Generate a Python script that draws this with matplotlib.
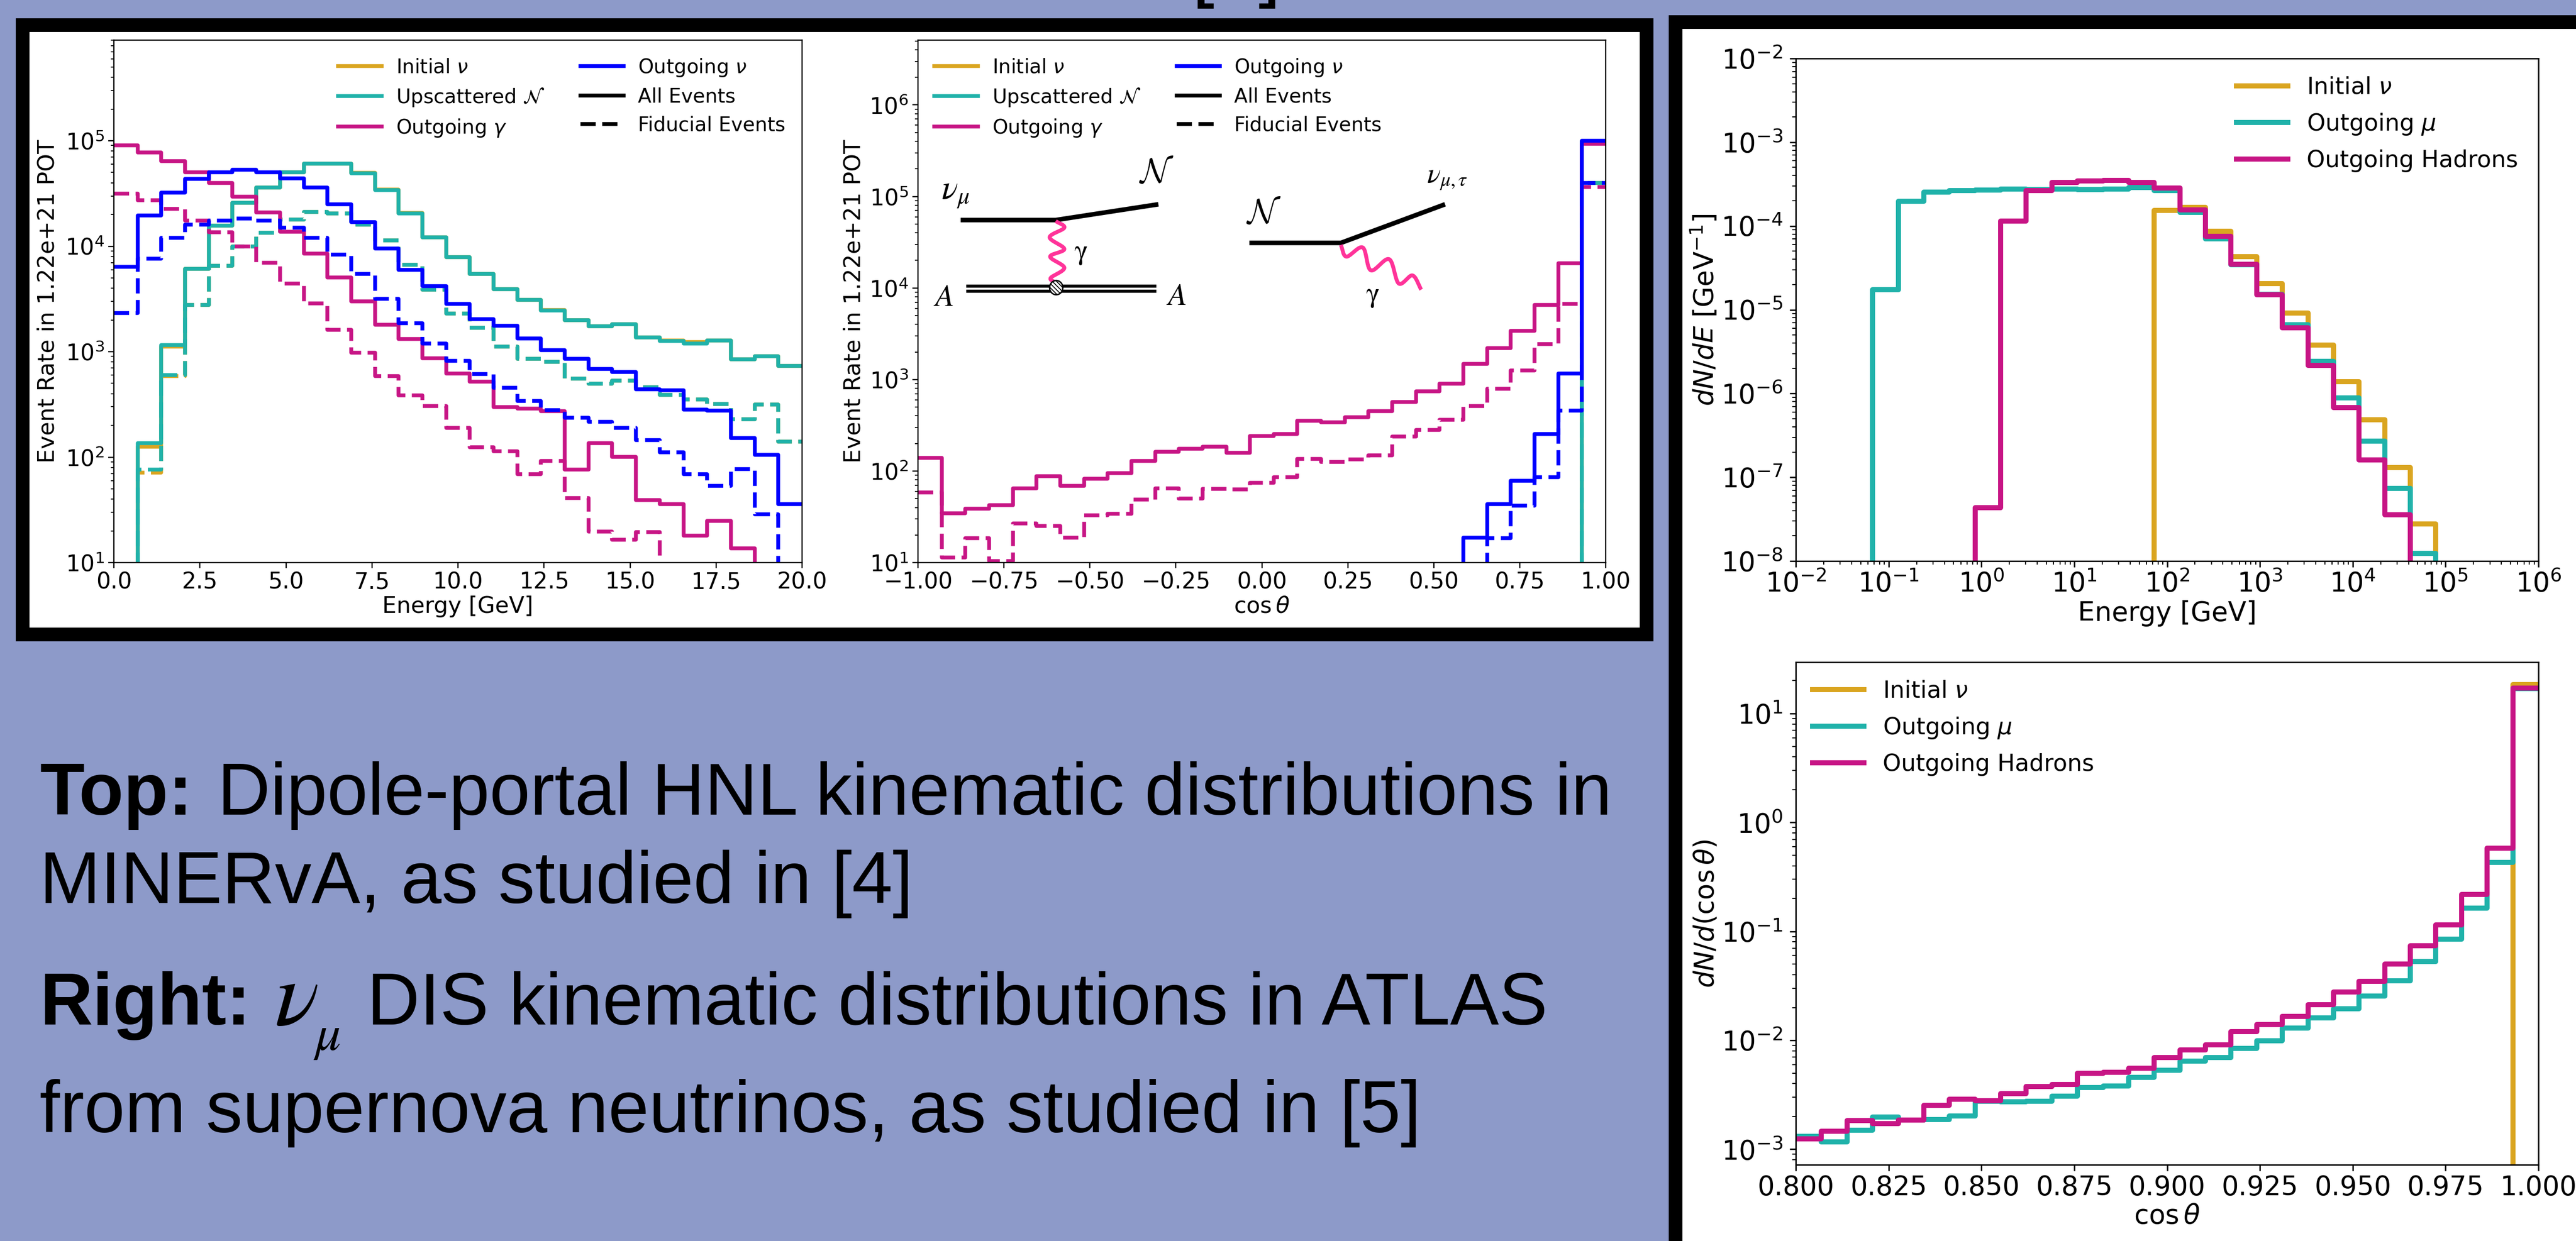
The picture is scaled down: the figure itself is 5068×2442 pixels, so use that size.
import numpy as np
import matplotlib
matplotlib.use("Agg")
import matplotlib.pyplot as plt
from matplotlib.lines import Line2D
from matplotlib.patches import Ellipse, Rectangle
from matplotlib.ticker import LogLocator, NullFormatter

W, H, DPI = 5068, 2442, 100
GOLD, TEAL, MAG, BLUE = "goldenrod", "lightseagreen", "mediumvioletred", "blue"
BG = "#8d9ac9"

# ---- top-left panel: energy ----
e_edges_range = (0, 20)
e_initial_all = [0, 125, 1120, 6100, 15700, 25700, 36000, 50500, 60500, 60500, 49500, 34500, 20700, 12100, 7840, 5470, 3920, 3100, 2490, 1990, 1740, 1820, 1360, 1280, 1230, 1270, 847, 910, 733]
e_initial_fid = [0, 71, 590, 2780, 6490, 10000, 13450, 17950, 21100, 20500, 16100, 11300, 6670, 3880, 2300, 1680, 1120, 855, 803, 555, 497, 531, 459, 391, 351, 318, 228, 316, 141]
e_upsc_all = [0, 136, 1150, 6100, 15700, 25700, 36000, 50500, 60500, 60500, 49200, 34000, 20500, 12100, 7840, 5470, 3920, 3100, 2470, 1980, 1740, 1820, 1360, 1260, 1200, 1270, 847, 910, 733]
e_upsc_fid = [0, 76, 597, 2780, 6490, 10000, 13450, 17950, 21100, 20500, 16100, 11300, 6670, 3880, 2300, 1680, 1120, 855, 803, 555, 497, 531, 459, 391, 351, 318, 228, 316, 141]
e_gamma_all = [90800, 77100, 64400, 50500, 39600, 29400, 20900, 13700, 8490, 5080, 3010, 1810, 1320, 863, 624, 521, 298, 290, 272, 76, 136, 101, 39, 36, 18, 24.8, 13.7, 0, 0]
e_gamma_fid = [31700, 27400, 22500, 17500, 13500, 9910, 6970, 4440, 2880, 1610, 979, 586, 384, 306, 190, 124, 113, 68.7, 92.5, 41, 19.6, 16.4, 19.5, 0, 0, 0, 0, 0, 0]
e_nu_all = [6370, 19600, 32200, 43300, 50100, 52900, 50100, 44200, 35900, 25000, 17000, 9550, 5990, 4170, 2830, 2030, 1770, 1330, 1030, 855, 689, 641, 440, 428, 282, 275, 152, 105, 36]
e_nu_fid = [2320, 7620, 12000, 16000, 17600, 18400, 17500, 15000, 12000, 8340, 5470, 3160, 1870, 1190, 817, 612, 455, 341, 280, 236, 216, 190, 145, 111, 68.7, 53.3, 77, 28.7, 0]

# ---- top-middle panel: cos theta ----
c_upsc_all = [0] * 28 + [400000]
c_upsc_fid = [0] * 28 + [140000]
c_initial_all = [0] * 28 + [400000]
c_initial_fid = [0] * 28 + [140000]
c_gamma_all = [139, 34.6, 38.8, 42.2, 64.4, 87.9, 69.3, 82.6, 94.6, 129, 162, 176, 185, 158, 240, 253, 352, 341, 386, 452, 567, 743, 904, 1490, 2200, 3400, 6530, 18600, 374000]
c_gamma_fid = [58, 11.3, 18.4, 10.4, 26.7, 25, 18.8, 32.9, 34.3, 48.8, 64.4, 50.2, 63.8, 63, 74.5, 85.3, 136, 126, 134, 149, 238, 281, 363, 516, 789, 1260, 2440, 6730, 126000]
c_nu_all = [0] * 23 + [18.6, 43.5, 78.5, 253, 1160, 406000]
c_nu_fid = [0] * 24 + [18.4, 41.7, 85.3, 456, 140000]

# ---- right-top panel: DIS energy ----
d_initial = [0] * 14 + [1.53e-4, 1.68e-4, 8.6e-5, 4.3e-5, 2.05e-5, 9.1e-6, 3.8e-6, 1.39e-6, 4.85e-7, 1.31e-7, 2.77e-8, 0, 0, 0, 0]
d_muon = [0, 0, 0, 1.74e-5, 1.96e-4, 2.54e-4, 2.66e-4, 2.69e-4, 2.75e-4, 2.72e-4, 2.75e-4, 2.72e-4, 2.75e-4, 2.88e-4, 2.66e-4, 1.45e-4, 7e-5, 3.45e-5, 1.54e-5, 6.6e-6, 2.42e-6, 8.8e-7, 2.7e-7, 7.4e-8, 1.24e-8, 0, 0, 0, 0]
d_hadrons = [0] * 7 + [4.35e-8, 1.15e-4, 2.66e-4, 3.29e-4, 3.44e-4, 3.5e-4, 3.33e-4, 2.85e-4, 1.55e-4, 7.5e-5, 3.5e-5, 1.52e-5, 6.07e-6, 2.18e-6, 6.8e-7, 1.62e-7, 3.56e-8, 0, 0, 0, 0, 0]

# ---- right-bottom panel: DIS cos theta ----
a_initial = [0] * 28 + [18.4]
a_muon = [1.31e-3, 1.17e-3, 1.49e-3, 1.98e-3, 1.85e-3, 1.87e-3, 2.03e-3, 2.75e-3, 2.73e-3, 2.77e-3, 3.06e-3, 3.7e-3, 3.82e-3, 4.55e-3, 5.32e-3, 6.43e-3, 6.92e-3, 8.43e-3, 9.93e-3, 1.29e-2, 1.61e-2, 1.95e-2, 2.54e-2, 3.5e-2, 5.29e-2, 8.51e-2, 0.164, 0.431, 17.0]
a_hadrons = [1.24e-3, 1.47e-3, 1.84e-3, 1.72e-3, 1.85e-3, 2.54e-3, 2.89e-3, 2.8e-3, 3.24e-3, 3.76e-3, 3.95e-3, 4.98e-3, 5.1e-3, 5.54e-3, 6.92e-3, 8.15e-3, 9.08e-3, 1.2e-2, 1.4e-2, 1.65e-2, 2.12e-2, 2.78e-2, 3.47e-2, 4.99e-2, 7.4e-2, 0.115, 0.219, 0.579, 17.2]

NBINS = 29
plt.rcParams["font.family"] = ["DejaVu Sans"]
plt.rcParams["hatch.linewidth"] = 1.3
fig = plt.figure(figsize=(W / DPI, H / DPI), dpi=DPI, facecolor=BG)


def px_rect(l, t, r, b, color, z=0):
    fig.add_artist(Rectangle((l / W, 1 - b / H), (r - l) / W, (b - t) / H, transform=fig.transFigure,
                             facecolor=color, edgecolor="none", zorder=z))


def px_line(xs, ys, color="black", lw=5.5, z=3, cap="butt"):
    fig.add_artist(Line2D(np.asarray(xs) / W, 1 - np.asarray(ys) / H, transform=fig.transFigure,
                          color=color, lw=lw, solid_capstyle=cap, zorder=z))


def px_text(x, y, s, **kw):
    return fig.text(x / W, 1 - y / H, s, **kw)


def px_axes(l, t, r, b):
    ax = fig.add_axes([l / W, 1 - b / H, (r - l) / W, (b - t) / H], zorder=2)
    ax.patch.set_alpha(0)
    return ax


def style(ax, fs, scale, ypad):
    ax.set_yscale("log")
    ax.tick_params(which="major", length=3.5 * scale, width=0.8 * scale, labelsize=fs)
    ax.tick_params(which="minor", length=2 * scale, width=0.6 * scale)
    ax.tick_params(axis="y", which="major", pad=ypad)
    ax.tick_params(axis="x", which="major", pad=5)
    ax.yaxis.set_major_locator(LogLocator(base=10, numticks=20))
    ax.yaxis.set_minor_locator(LogLocator(base=10, subs=np.arange(2, 10), numticks=20))
    ax.yaxis.set_minor_formatter(NullFormatter())
    for s in ax.spines.values():
        s.set_linewidth(0.8 * scale)


def stairs(ax, vals, edges, color, lw, ls="-"):
    v = np.clip(np.asarray(vals, float), 1e-14, None)
    ax.stairs(v, edges, baseline=None, color=color, lw=lw, ls=ls, joinstyle="round")


def smooth(pts, n=24):
    """Catmull-Rom curve through the given pixel control points (drawn decoration only)."""
    p = np.asarray(pts, float)
    p = np.vstack([2 * p[0] - p[1], p, 2 * p[-1] - p[-2]])
    out = []
    for i in range(1, len(p) - 2):
        t = np.linspace(0, 1, n)[:, None]
        out.append(0.5 * (2 * p[i] + (p[i + 1] - p[i - 1]) * t + (2 * p[i - 1] - 5 * p[i] + 4 * p[i + 1] - p[i + 2]) * t ** 2
                          + (3 * p[i] - p[i - 1] - 3 * p[i + 1] + p[i + 2]) * t ** 3))
    return np.vstack(out)


# frames
px_rect(31, 36, 3253, 1262, "black")
px_rect(58, 63, 3226, 1235, "white", 1)
px_rect(3283, 30, W, H, "black")
px_rect(3310, 57, W, H, "white", 1)

# cut-off heading at top edge
px_text(2345, -16, "[3]", family="Liberation Sans", fontsize=114, ha="left", va="baseline", color="black", clip_on=False)

# ---- top panels ----
FS1, LEG1, SC1, LW1 = 32, 28, 2.2, 5.4
dash1 = (0, (4.0, 1.7))

ax1 = px_axes(224, 79, 1578, 1107)
style(ax1, FS1, SC1, 6)
e_edges = np.linspace(*e_edges_range, NBINS + 1)
for a, f, c in [(e_initial_all, e_initial_fid, GOLD), (e_upsc_all, e_upsc_fid, TEAL),
                (e_gamma_all, e_gamma_fid, MAG), (e_nu_all, e_nu_fid, BLUE)]:
    stairs(ax1, a, e_edges, c, LW1)
    stairs(ax1, f, e_edges, c, LW1, dash1)
ax1.set_xlim(0, 20)
ax1.set_ylim(10, 9e5)
ax1.set_xticks(np.arange(0, 20.1, 2.5))
ax1.set_xlabel("Energy [GeV]", fontsize=FS1, labelpad=3)
ax1.set_ylabel("Event Rate in 1.22e+21 POT", fontsize=FS1, labelpad=9)

ax2 = px_axes(1806, 79, 3159, 1107)
style(ax2, FS1, SC1, 6)
c_edges = np.linspace(-1, 1, NBINS + 1)
for a, f, c in [(c_initial_all, c_initial_fid, GOLD), (c_upsc_all, c_upsc_fid, TEAL),
                (c_gamma_all, c_gamma_fid, MAG), (c_nu_all, c_nu_fid, BLUE)]:
    stairs(ax2, a, c_edges, c, LW1)
    stairs(ax2, f, c_edges, c, LW1, dash1)
ax2.set_xlim(-1, 1)
ax2.set_ylim(10, 5.1e6)
ax2.set_xticks(np.arange(-1, 1.01, 0.25))
ax2.set_xlabel(r"$\cos\theta$", fontsize=FS1, labelpad=3)
ax2.set_ylabel("Event Rate in 1.22e+21 POT", fontsize=FS1, labelpad=6)

top_handles = [Line2D([], [], color=GOLD, lw=LW1), Line2D([], [], color=TEAL, lw=LW1), Line2D([], [], color=MAG, lw=LW1),
               Line2D([], [], color=BLUE, lw=LW1), Line2D([], [], color="k", lw=LW1), Line2D([], [], color="k", lw=LW1, ls=dash1)]
top_labels = [r"Initial $\nu$", r"Upscattered $\mathcal{N}$", r"Outgoing $\gamma$", r"Outgoing $\nu$", "All Events", "Fiducial Events"]
for ax, x0 in [(ax1, (665 - 224) / 1354), (ax2, (1838 - 1806) / 1353)]:
    ax.legend(top_handles, top_labels, ncol=2, loc="upper left", bbox_to_anchor=(x0, 0.968), borderaxespad=0, borderpad=0,
              frameon=False, fontsize=LEG1, handlelength=2.2, handletextpad=0.72, columnspacing=1.8, labelspacing=0.46)

# ---- right panels ----
FS2, LEG2, SC2, LW2 = 38, 33, 2.5, 7.2
ax3 = px_axes(3533, 115, 4994, 1104)
style(ax3, FS2, SC2, 9.5)
ax3.set_xscale("log")
d_edges = np.logspace(-2, 6, NBINS + 1)
for v, c in [(d_initial, GOLD), (d_muon, TEAL), (d_hadrons, MAG)]:
    stairs(ax3, v, d_edges, c, LW2)
ax3.set_xlim(1e-2, 1e6)
ax3.set_ylim(1e-8, 1e-2)
ax3.xaxis.set_major_locator(LogLocator(base=10, numticks=20))
ax3.xaxis.set_minor_locator(LogLocator(base=10, subs=np.arange(2, 10), numticks=20))
ax3.xaxis.set_minor_formatter(NullFormatter())
ax3.set_xlabel("Energy [GeV]", fontsize=FS2, labelpad=3)
ax3.set_ylabel(r"$dN/dE$ [GeV$^{-1}$]", fontsize=FS2, labelpad=3)

ax4 = px_axes(3533, 1303, 4994, 2292)
style(ax4, FS2, SC2, 9.5)
a_edges = np.linspace(0.8, 1.0, NBINS + 1)
for v, c in [(a_initial, GOLD), (a_muon, TEAL), (a_hadrons, MAG)]:
    stairs(ax4, v, a_edges, c, LW2)
ax4.set_xlim(0.8, 1.0)
ax4.set_ylim(7.2e-4, 29.6)
ax4.set_xticks(np.arange(0.8, 1.001, 0.025))
ax4.set_xlabel(r"$\cos\theta$", fontsize=FS2, labelpad=3)
ax4.set_ylabel(r"$dN/d(\cos\theta)$", fontsize=FS2, labelpad=3)

right_handles = [Line2D([], [], color=GOLD, lw=LW2), Line2D([], [], color=TEAL, lw=LW2), Line2D([], [], color=MAG, lw=LW2)]
right_labels = [r"Initial $\nu$", r"Outgoing $\mu$", "Outgoing Hadrons"]
ax3.legend(right_handles, right_labels, loc="upper left", bbox_to_anchor=((4400 - 3533) / 1461, 0.965), borderaxespad=0, borderpad=0,
           frameon=False, fontsize=LEG2, handlelength=2.2, handletextpad=0.8, labelspacing=0.55)
ax4.legend(right_handles, right_labels, loc="upper left", bbox_to_anchor=((3566 - 3533) / 1461, 0.965), borderaxespad=0, borderpad=0,
           frameon=False, fontsize=LEG2, handlelength=2.2, handletextpad=0.8, labelspacing=0.55)

# ---- inset Feynman diagrams ----
px_line([1890, 2077, 2279], [433, 433, 402], lw=6.5)
px_line([2458, 2638, 2843], [478, 478, 402], lw=6.5)
px_line([1901, 2275], [563, 563], lw=4.4)
px_line([1901, 2275], [573, 573], lw=4.4)
PINK = "#ff3399"
w1 = smooth([(2077, 435), (2094, 448), (2065, 467), (2094, 490), (2066, 505), (2094, 527), (2067, 547), (2077, 556)])
px_line(w1[:, 0], w1[:, 1], color=PINK, lw=5.5)
w2 = smooth([(2638, 482), (2649, 505), (2681, 487), (2697, 532), (2733, 510), (2752, 558), (2779, 542), (2796, 570)])
px_line(w2[:, 0], w2[:, 1], color=PINK, lw=5.5)
blob = Ellipse((2078 / W, 1 - 566 / H), 26 / W, 28 / H, transform=fig.transFigure, facecolor="white", edgecolor="black",
               lw=2, hatch="\\\\\\\\", zorder=4)
fig.add_artist(blob)
DIA = dict(math_fontfamily="stix", color="black", ha="center", va="center", zorder=5)
px_text(1880, 380, r"$\nu_\mu$", fontsize=48, **DIA)
px_text(2276, 340, r"$\mathcal{N}$", fontsize=48, math_fontfamily="cm", color="black", ha="center", va="center", zorder=5)
px_text(2126, 497, r"$\mathrm{\gamma}$", fontsize=40, **DIA)
px_text(1856, 586, r"$A$", fontsize=44, **DIA)
px_text(2314, 584, r"$A$", fontsize=44, **DIA)
px_text(2487, 420, r"$\mathcal{N}$", fontsize=48, math_fontfamily="cm", color="black", ha="center", va="center", zorder=5)
px_text(2700, 581, r"$\mathrm{\gamma}$", fontsize=40, **DIA)
px_text(2847, 350, r"$\nu_{\mu,\tau}$", fontsize=40, **DIA)

# ---- body text ----
BODY = 103.5
LS = "Liberation Sans"
px_text(78, 1603, "Top:", family=LS, fontsize=BODY, weight="bold", va="baseline")
px_text(428, 1603, "Dipole-portal HNL kinematic distributions in", family=LS, fontsize=BODY, va="baseline")
px_text(78, 1777, "MINERvA, as studied in [4]", family=LS, fontsize=BODY, va="baseline")
px_text(78, 2016, "Right:", family=LS, fontsize=BODY, weight="bold", va="baseline")
px_text(540, 2016, r"$\nu$", fontsize=131, math_fontfamily="stix", va="baseline")
px_text(616, 2066, r"$\mu$", fontsize=72, math_fontfamily="stix", va="baseline")
px_text(722, 2016, "DIS kinematic distributions in ATLAS", family=LS, fontsize=BODY, va="baseline")
px_text(78, 2228, "from supernova neutrinos, as studied in [5]", family=LS, fontsize=BODY, va="baseline")

fig.savefig("out.png", dpi=DPI, facecolor=BG)
